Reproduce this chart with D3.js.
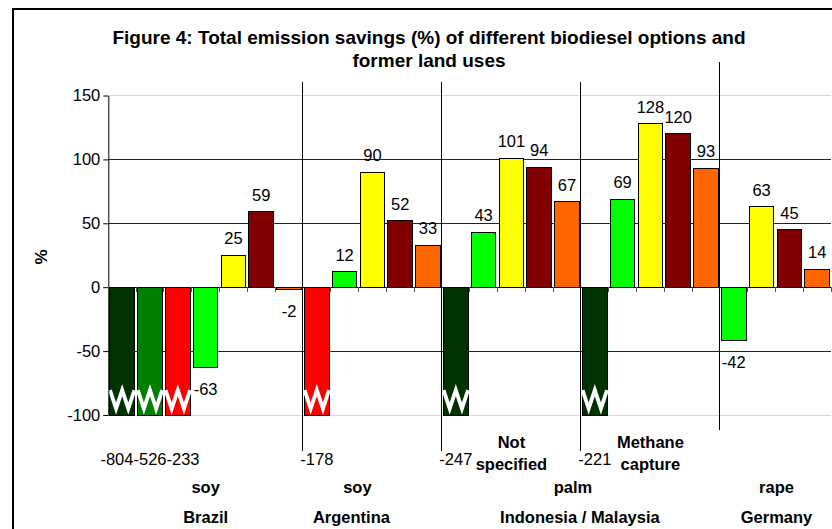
<!DOCTYPE html>
<html><head><meta charset="utf-8">
<script src="https://cdn.jsdelivr.net/npm/d3@7/dist/d3.min.js"></script>
<style>body{margin:0;background:#fff}svg{display:block}text{font-family:"Liberation Sans",Arial,sans-serif;fill:#000}</style>
</head><body>
<script>
// ---- data ----
const seriesKeys = ["s1", "s2", "s3", "s4", "s5", "s6", "s7"]; // former land-use series (legend not shown)
const slotSeries = [0,1,2,3,4,5,6, 2,3,4,5,6, 0,3,4,5,6, 0,3,4,5,6, 3,4,5,6];
const values     = [-804,-526,-233,-63,25,59,-2, -178,12,90,52,33, -247,43,101,94,67, -221,69,128,120,93, -42,63,45,14];
const yTicks = [150, 100, 50, 0, -50, -100];
const countries = ["Brazil", "Argentina", "Indonesia / Malaysia", "Germany"];
const crops = ["soy", "soy", "palm", "rape"];
const groupSizes = [7, 5, 10, 4];
const palmOptions = [["Not", "specified"], ["Methane", "capture"]];
const palmOptionSizes = [5, 5];
const titleLines = ["Figure 4: Total emission savings (%) of different biodiesel options and", "former land uses"];

// ---- style ----
const colors = ["#003300", "#008000", "#FF0000", "#00FF00", "#FFFF00", "#800000", "#FF6600"];
const cropDx = [0, -15, -8, 1], countryDx = [0, -21, -1, 1];
const W = 832, H = 529;
const svg = d3.select("body").append("svg").attr("width", W).attr("height", H);

const x = d3.scaleBand().domain(d3.range(values.length)).range([108.3, 831.1]).padding(0);
const y = d3.scaleLinear().domain([-100, 150]).range([415, 95.5]).clamp(true);
const step = x.step();
const x0 = x.range()[0], x1 = x.range()[1];
const slotEdge = i => x0 + i * step;

// outer border
svg.append("rect").attr("x", 13).attr("y", 9).attr("width", W).attr("height", H)
  .attr("fill", "none").attr("stroke", "#000").attr("stroke-width", 2);

// title
svg.append("g").selectAll("text").data(titleLines).join("text")
  .attr("x", 429).attr("y", (d, i) => 43.5 + i * 23)
  .attr("text-anchor", "middle").attr("font-size", "19px").attr("font-weight", "bold")
  .text(d => d);

// gridlines
svg.append("g").selectAll("line").data(yTicks.filter(t => t !== 0)).join("line")
  .attr("x1", x0).attr("x2", x1).attr("y1", d => y(d)).attr("y2", d => y(d))
  .attr("stroke", d => (d === 150 || d === -100) ? "#d9d9d9" : "#222").attr("stroke-width", 1)
  .attr("shape-rendering", "crispEdges");

// bars
const bw = step * 0.88;
const bars = values.map((v, i) => ({ v, i, s: slotSeries[i] }));
svg.append("g").selectAll("rect").data(bars).join("rect")
  .attr("x", d => x(d.i) + (step - bw) / 2)
  .attr("width", bw)
  .attr("y", d => Math.min(y(d.v), y(0)))
  .attr("height", d => Math.abs(y(d.v) - y(0)))
  .attr("fill", d => colors[d.s])
  .attr("stroke", "#000").attr("stroke-width", 1)
  .attr("shape-rendering", "crispEdges");

// zigzag break marks on truncated bars
const zigTop = -80.5, zigBottom = -95;
const truncated = bars.filter(d => d.v < y.domain()[0]);
svg.append("g").selectAll("polyline").data(truncated).join("polyline")
  .attr("points", d => {
    const l = x(d.i) + (step - bw) / 2;
    return d3.range(5).map(k => [l + k * bw / 4, y(k % 2 ? zigBottom : zigTop)].join(",")).join(" ");
  })
  .attr("fill", "none").attr("stroke", "#fff").attr("stroke-width", 3.8).attr("stroke-linejoin", "miter");

// y axis
const yAxis = svg.append("g").attr("transform", `translate(${x0},0)`)
  .call(d3.axisLeft(y).tickValues(yTicks).tickSize(5).tickSizeOuter(0).tickPadding(3).tickFormat(d => String(d)));
yAxis.select(".domain").attr("stroke", "#000");
yAxis.selectAll(".tick line").attr("stroke", "#000");
yAxis.selectAll(".tick text").attr("font-size", "16.5px").attr("font-family", '"Liberation Sans",Arial,sans-serif').attr("fill", "#000");

// x axis at zero
const yz = y(0);
svg.append("line").attr("x1", x0).attr("x2", x1).attr("y1", yz).attr("y2", yz)
  .attr("stroke", "#000").attr("stroke-width", 1).attr("shape-rendering", "crispEdges");
svg.append("g").selectAll("line").data(d3.range(values.length + 1)).join("line")
  .attr("x1", d => slotEdge(d)).attr("x2", d => slotEdge(d)).attr("y1", yz).attr("y2", yz + 5)
  .attr("stroke", "#555").attr("stroke-width", 1).attr("shape-rendering", "crispEdges");

// data labels (normal)
svg.append("g").selectAll("text").data(bars.filter(d => d.v >= y.domain()[0])).join("text")
  .attr("x", d => x(d.i) + step / 2)
  .attr("y", d => d.v >= 0 ? y(d.v) - 11 : y(d.v) + 27)
  .attr("text-anchor", "middle").attr("font-size", "16.5px")
  .text(d => d.v);

// data labels for truncated bars: written below the axis, runs of adjacent bars laid end to end
const runs = [];
truncated.forEach(d => {
  const last = runs[runs.length - 1];
  if (last && last[last.length - 1].i === d.i - 1) last.push(d); else runs.push([d]);
});
const tg = svg.append("g");
runs.forEach(run => {
  const texts = run.map(d => tg.append("text").attr("font-size", "16.5px").attr("y", y(y.domain()[0]) + 50).text(d.v));
  const widths = texts.map(t => t.node().getComputedTextLength());
  const total = d3.sum(widths);
  const mid = d3.mean(run, d => x(d.i) + step / 2);
  let cur = mid - total / 2;
  texts.forEach((t, k) => { t.attr("x", cur); cur += widths[k]; });
});

// group separators
const seps = [7, 12, 17, 22];
svg.append("g").selectAll("line").data(seps).join("line")
  .attr("x1", d => slotEdge(d)).attr("x2", d => slotEdge(d))
  .attr("y1", d => d === 22 ? 62 : 82).attr("y2", d => d === 22 ? 430 : 451)
  .attr("stroke", "#000").attr("stroke-width", 1).attr("shape-rendering", "crispEdges");

// group labels
const starts = [0, ...d3.cumsum(groupSizes).slice(0, -1)];
const centers = starts.map((s, k) => slotEdge(s + groupSizes[k] / 2));
svg.append("g").selectAll("text").data(crops).join("text")
  .attr("x", (d, k) => centers[k] + cropDx[k]).attr("y", 493)
  .attr("text-anchor", "middle").attr("font-size", "16.5px").attr("font-weight", "bold").text(d => d);
svg.append("g").selectAll("text").data(countries).join("text")
  .attr("x", (d, k) => centers[k] + countryDx[k]).attr("y", 523)
  .attr("text-anchor", "middle").attr("font-size", "16.5px").attr("font-weight", "bold").text(d => d);

// palm sub-options
const palmStart = starts[2];
palmOptions.forEach((lines, k) => {
  const s = palmStart + d3.sum(palmOptionSizes.slice(0, k));
  const cx = slotEdge(s + palmOptionSizes[k] / 2);
  svg.append("g").selectAll("text").data(lines).join("text")
    .attr("x", cx).attr("y", (d, j) => 448 + j * 22)
    .attr("text-anchor", "middle").attr("font-size", "16.5px").attr("font-weight", "bold").text(d => d);
});

// y axis title
svg.append("text").attr("transform", "translate(47,257) rotate(-90)")
  .attr("text-anchor", "middle").attr("font-size", "17px").attr("font-weight", "bold").text("%");
</script>
</body></html>
